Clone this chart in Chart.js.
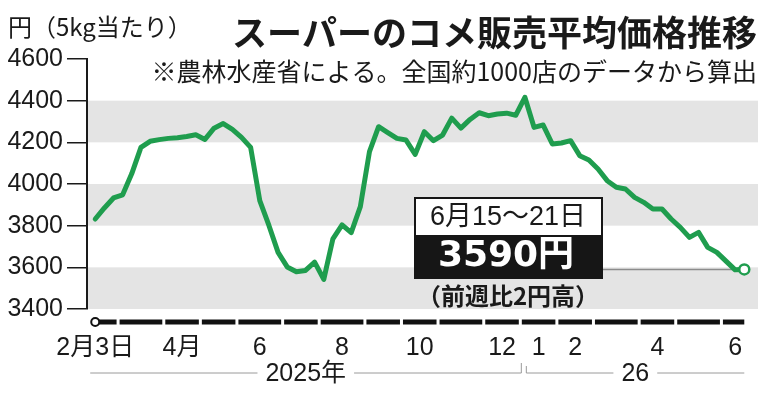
<!DOCTYPE html>
<html><head><meta charset="utf-8">
<script src="https://cdn.jsdelivr.net/npm/chart.js@4.4.1/dist/chart.umd.min.js"></script>
<style>html,body{margin:0;padding:0;background:#fff}#wrap{width:772px;height:400px}</style>
</head><body><div id="wrap"><canvas id="c" width="772" height="400"></canvas></div>
<script>
// ---- data ----
const firstWeekStart = [2025, 1, 3]; // 2025-02-03 (year, monthIndex, day)
const prices = [3832,3885,3933,3948,4050,4176,4205,4213,4219,4222,4228,4236,4214,4268,4290,4262,4224,4176,
  3920,3801,3672,3602,3579,3585,3625,3542,3737,3804,3767,3891,4155,4275,4247,4219,4211,4142,4251,4208,4235,
  4316,4268,4310,4342,4328,4336,4340,4330,4416,4272,4283,4192,4197,4208,4136,4115,4072,4016,3984,3976,3936,
  3912,3880,3880,3832,3792,3744,3768,3696,3672,3630,3588,3590];
const monthTickKeys = ['2025-2','2025-4','2025-6','2025-8','2025-10','2025-12','2026-1','2026-2','2026-4','2026-6'];
const monthTickLabels = ['2月3日','4月','6','8','10','12','1','2','4','6'];
const yearKeys = [2025, 2026];
const yearLabels = ['2025年','26'];
const yMin = 3400, yMax = 4600, yStep = 200;
const titleText = 'スーパーのコメ販売平均価格推移';
const subtitleText = '※農林水産省による。全国約1000店のデータから算出';
const unitText = '円（5kg当たり）';

// ---- derived categories ----
const weeks = prices.map((_, i) => new Date(firstWeekStart[0], firstWeekStart[1], firstWeekStart[2] + 7 * i));
const weekEnd = d => new Date(d.getFullYear(), d.getMonth(), d.getDate() + 6);
const monthKey = i => { const e = weekEnd(weeks[i]); return e.getFullYear() + '-' + (e.getMonth() + 1); };
const yearKey = i => weekEnd(weeks[i]).getFullYear();
function groupBy(fn) {
  const g = [];
  weeks.forEach((_, i) => {
    const k = fn(i);
    if (!g.length || g[g.length - 1].key !== k) g.push({ key: k, first: i, last: i });
    else g[g.length - 1].last = i;
  });
  return g;
}
const monthGroups = groupBy(monthKey);
const yearGroups = groupBy(yearKey);
const tickPositions = monthTickKeys.map(k => {
  const g = monthGroups.find(m => m.key === k);
  return g.first === 0 ? 0 : (g.first + g.last) / 2;
});

const GREEN = '#1f9d4e';
const INK = '#1a1a1a';
const NUM = "'Liberation Sans', 'Noto Sans CJK JP', sans-serif";
const JP = "'Noto Sans CJK JP', sans-serif";
const last = prices.length - 1;

const bandPlugin = {
  id: 'bands',
  beforeDatasetsDraw(chart) {
    const { ctx, chartArea: a, scales: { x, y } } = chart;
    ctx.save();
    ctx.fillStyle = '#e4e4e4';
    y.ticks.forEach(t => {
      const v = t.value;
      if (v % 400 === 200 && v < y.max) {
        const top = y.getPixelForValue(v + yStep), bot = y.getPixelForValue(v);
        ctx.fillRect(a.left + 1, top, a.right - a.left - 1, bot - top);
      }
    });
    const ly = y.getPixelForValue(prices[last]);
    ctx.strokeStyle = '#8c8c8c'; ctx.lineWidth = 1.5;
    ctx.beginPath(); ctx.moveTo(602, ly); ctx.lineTo(x.getPixelForValue(last), ly); ctx.stroke();
    ctx.restore();
  }
};

const decorPlugin = {
  id: 'decor',
  afterDraw(chart) {
    const { ctx, chartArea: a, scales: { x } } = chart;
    ctx.save();
    // titles
    ctx.fillStyle = INK;
    ctx.textBaseline = 'middle';
    ctx.textAlign = 'right';
    ctx.font = 'bold 35px ' + JP;
    ctx.fillText(titleText, 757, 33);
    ctx.font = '25px ' + JP;
    ctx.fillText(subtitleText, 757, 71);
    ctx.textAlign = 'left';
    ctx.font = '24px ' + JP;
    ctx.fillText(unitText, 8, 27);

    // date bar
    const yb = a.bottom + 13;
    ctx.strokeStyle = '#111'; ctx.lineWidth = 5; ctx.lineCap = 'butt';
    monthGroups.forEach(g => {
      const x1 = g.first === 0 ? x.getPixelForValue(0) : x.getPixelForValue(g.first - 0.5) + 1.5;
      const x2 = g.last === last ? x.getPixelForValue(last) : x.getPixelForValue(g.last + 0.5) - 1.5;
      ctx.beginPath(); ctx.moveTo(x1, yb); ctx.lineTo(x2, yb); ctx.stroke();
    });
    ctx.beginPath(); ctx.arc(x.getPixelForValue(0), yb, 4, 0, Math.PI * 2);
    ctx.fillStyle = '#fff'; ctx.fill(); ctx.lineWidth = 2; ctx.stroke();

    // year lines
    const yy = a.bottom + 64;
    ctx.strokeStyle = '#9a9a9a'; ctx.lineWidth = 1;
    ctx.font = '25px ' + NUM; ctx.textAlign = 'center'; ctx.textBaseline = 'middle';
    yearGroups.forEach((g, gi) => {
      const x1 = gi === 0 ? x.getPixelForValue(g.first) - 5 : x.getPixelForValue(g.first - 0.5) + 6;
      const x2 = gi === yearGroups.length - 1 ? x.getPixelForValue(g.last) : x.getPixelForValue(g.last + 0.5) + 1;
      ctx.beginPath(); ctx.moveTo(x1, yy); ctx.lineTo(x2, yy); ctx.stroke();
      if (gi < yearGroups.length - 1) { ctx.beginPath(); ctx.moveTo(x2, yy); ctx.lineTo(x2, yy - 10); ctx.stroke(); }
      if (gi > 0) { ctx.beginPath(); ctx.moveTo(x1, yy); ctx.lineTo(x1, yy - 7); ctx.stroke(); }
      const label = yearLabels[yearKeys.indexOf(g.key)];
      const cx = (x1 + x2) / 2;
      const w = ctx.measureText(label).width;
      ctx.fillStyle = '#fff'; ctx.fillRect(cx - w / 2 - 8, yy - 3, w + 16, 6);
      ctx.fillStyle = INK; ctx.fillText(label, cx, yy + 1);
    });

    // annotation box
    const d = weeks[last], e = weekEnd(d);
    const diff = prices[last] - prices[last - 1];
    ctx.fillStyle = '#fff'; ctx.fillRect(415, 198, 187, 37);
    ctx.fillStyle = '#161616'; ctx.fillRect(415, 235, 187, 43);
    ctx.strokeStyle = '#161616'; ctx.lineWidth = 2; ctx.strokeRect(415, 198, 187, 80);
    ctx.textAlign = 'center';
    ctx.fillStyle = INK; ctx.font = '27px ' + NUM;
    ctx.fillText((d.getMonth() + 1) + '月' + d.getDate() + '～' + e.getDate() + '日', 508, 218);
    ctx.fillStyle = '#fff'; ctx.font = "bold 36px 'DejaVu Sans', 'Noto Sans CJK JP', sans-serif";
    ctx.fillText(prices[last] + '円', 506, 257);
    ctx.fillStyle = INK; ctx.font = 'bold 24px ' + JP;
    ctx.fillText('（前週比' + Math.abs(diff) + '円' + (diff >= 0 ? '高' : '安') + '）', 508, 296);
    ctx.restore();
  }
};

new Chart(document.getElementById('c'), {
  type: 'line',
  data: {
    datasets: [{
      data: prices.map((v, i) => ({ x: i, y: v })),
      borderColor: GREEN,
      borderWidth: 5,
      borderJoinStyle: 'round',
      borderCapStyle: 'round',
      tension: 0,
      pointRadius: c => c.dataIndex === last ? 5 : 0,
      pointHoverRadius: 0,
      pointBackgroundColor: '#fff',
      pointBorderColor: GREEN,
      pointBorderWidth: 2.5
    }]
  },
  options: {
    responsive: false,
    animation: false,
    devicePixelRatio: 1,
    layout: { padding: { top: 59, right: 14, left: 0, bottom: 0 } },
    plugins: { legend: { display: false }, tooltip: { enabled: false } },
    scales: {
      x: {
        type: 'linear',
        min: -0.9,
        max: prices.length + 0.5,
        grid: { display: false },
        border: { display: false },
        afterBuildTicks: s => { s.ticks = tickPositions.map(v => ({ value: v })); },
        afterFit: s => { s.height = 91; },
        ticks: {
          autoSkip: false, maxRotation: 0, padding: 16,
          color: INK, font: { family: NUM, size: 25 },
          callback: (v, i) => monthTickLabels[i]
        }
      },
      y: {
        min: yMin, max: yMax,
        afterFit: s => { s.width = 87; },
        grid: { drawOnChartArea: false, drawTicks: true, tickLength: 20, color: INK, lineWidth: 1.5 },
        border: { display: true, color: INK, width: 2 },
        ticks: { stepSize: yStep, padding: 4, color: INK, font: { family: NUM, size: 25 },
          callback: v => String(v) }
      }
    }
  },
  plugins: [bandPlugin, decorPlugin]
});
</script>
</body></html>
